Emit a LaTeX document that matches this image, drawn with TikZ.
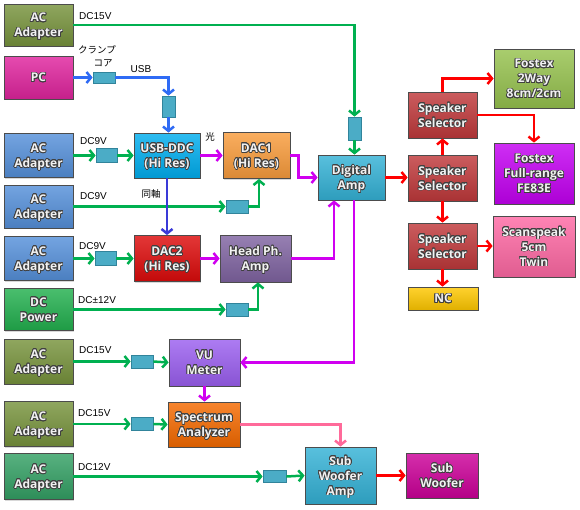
\documentclass[tikz,border=0pt]{standalone}
\usepackage{fontspec}
\setmainfont{Liberation Sans}
\newfontfamily\boxf{Open Sans}
\newfontfamily\jpf{Noto Sans CJK JP}
\usepackage{contour}
\contourlength{0.7pt}
\contournumber{20}
\usetikzlibrary{arrows.meta,shadows}
\definecolor{cAC}{HTML}{77933C}
\definecolor{cPC}{HTML}{E0249E}
\definecolor{cBL}{HTML}{5590DA}
\definecolor{cDCP}{HTML}{22B04E}
\definecolor{cAC7}{HTML}{33A064}
\definecolor{cDDC}{HTML}{00AEEF}
\definecolor{cDAC1}{HTML}{F99C3C}
\definecolor{cDAMP}{HTML}{34B2D6}
\definecolor{cDAC2}{HTML}{DD0B0B}
\definecolor{cHPA}{HTML}{8064A2}
\definecolor{cVU}{HTML}{9B5FF0}
\definecolor{cSPA}{HTML}{F56A00}
\definecolor{cSW}{HTML}{CC0099}
\definecolor{cSPK}{HTML}{C0393B}
\definecolor{cF2}{HTML}{96C24E}
\definecolor{cFF}{HTML}{C400F2}
\definecolor{cSCAN}{HTML}{FF69A4}
\definecolor{cNC}{HTML}{FFC800}
\definecolor{cSB}{HTML}{4BACC6}
\definecolor{cSBd}{HTML}{31849B}
\definecolor{lG}{HTML}{00B050}
\definecolor{lB}{HTML}{2F6BF5}
\definecolor{lB2}{HTML}{3A3AD8}
\definecolor{lM}{HTML}{D000F0}
\definecolor{lR}{HTML}{FF0000}
\definecolor{lP}{HTML}{FF6A9A}
\newcommand{\ct}[1]{\contour{black!75}{#1}}
\tikzset{
  box/.style={draw=black!70, line width=0.8pt, inner sep=0pt, align=center,
    text=white!95!black, font=\boxf\bfseries\fontsize{12}{15}\selectfont,
    text depth=0pt,
    top color=#1!82!white, bottom color=#1!88!black,
    drop shadow={shadow xshift=1.2pt, shadow yshift=-1.2pt, opacity=0.3}},
  sb/.style={draw=cSBd, fill=cSB, line width=0.8pt, inner sep=0pt},
  lbl/.style={font=\fontsize{10}{12}\selectfont, inner sep=0pt},
  jlbl/.style={font=\jpf\fontsize{9.5}{11}\selectfont, inner sep=0pt},
  conn/.style={line width=2.5pt, draw=#1, -{Straight Barb[length=4.5pt,width=11pt]}},
}
\begin{document}
\begin{tikzpicture}[x=1pt,y=-1pt]
\path[use as bounding box, fill=white] (0,0) rectangle (580,509);
% left column
\node[box=cAC, minimum width=69pt, minimum height=42pt] (ac1) at (38.5,25) {\ct{AC}\\\ct{Adapter}};
\node[box=cPC, minimum width=69pt, minimum height=43pt] (pc) at (38.5,77.5) {\ct{PC}};
\node[box=cBL, minimum width=69pt, minimum height=44pt] (ac2) at (38.5,155.5) {\ct{AC}\\\ct{Adapter}};
\node[box=cBL, minimum width=69pt, minimum height=43pt] (ac3) at (38.5,206.5) {\ct{AC}\\\ct{Adapter}};
\node[box=cBL, minimum width=69pt, minimum height=44pt] (ac4) at (38.5,258.5) {\ct{AC}\\\ct{Adapter}};
\node[box=cDCP, minimum width=69pt, minimum height=42pt] (dcp) at (38.5,309.5) {\ct{DC}\\\ct{Power}};
\node[box=cAC, minimum width=69pt, minimum height=45pt] (ac5) at (38.5,361.5) {\ct{AC}\\\ct{Adapter}};
\node[box=cAC, minimum width=69pt, minimum height=45pt] (ac6) at (38.5,424) {\ct{AC}\\\ct{Adapter}};
\node[box=cAC7, minimum width=69pt, minimum height=46pt] (ac7) at (38.5,476.5) {\ct{AC}\\\ct{Adapter}};
% middle
\node[box=cDDC, minimum width=66pt, minimum height=45pt] (ddc) at (167,155.5) {\ct{USB-DDC}\\\ct{(Hi Res)}};
\node[box=cDAC1, minimum width=67pt, minimum height=46pt] (dac1) at (256.5,155.5) {\ct{DAC1}\\\ct{(Hi Res)}};
\node[box=cDAMP, minimum width=67pt, minimum height=45pt] (damp) at (351.5,177.5) {\ct{Digital}\\\ct{Amp}};
\node[box=cDAC2, minimum width=66pt, minimum height=46pt] (dac2) at (167,258.5) {\ct{DAC2}\\\ct{(Hi Res)}};
\node[box=cHPA, minimum width=71pt, minimum height=47pt] (hpa) at (255.5,258.5) {\ct{Head Ph.}\\\ct{Amp}};
\node[box=cVU, minimum width=71pt, minimum height=47pt] (vu) at (204.5,362.5) {\ct{VU}\\\ct{Meter}};
\node[box=cSPA, minimum width=72pt, minimum height=45pt] (spa) at (204,424.5) {\ct{Spectrum}\\\ct{Analyzer}};
\node[box=cDAMP, minimum width=71pt, minimum height=57pt] (swa) at (340.5,475.5) {\ct{Sub}\\\ct{Woofer}\\\ct{Amp}};
\node[box=cSW, minimum width=72pt, minimum height=45pt] (sw) at (442,475.5) {\ct{Sub}\\\ct{Woofer}};
% right
\node[box=cSPK, minimum width=69pt, minimum height=46pt] (spk1) at (442.5,115) {\ct{Speaker}\\\ct{Selector}};
\node[box=cSPK, minimum width=69pt, minimum height=46pt] (spk2) at (442.5,178) {\ct{Speaker}\\\ct{Selector}};
\node[box=cSPK, minimum width=69pt, minimum height=46pt] (spk3) at (442.5,246) {\ct{Speaker}\\\ct{Selector}};
\node[box=cNC, minimum width=70pt, minimum height=23pt] (nc) at (443,298.5) {\ct{NC}};
\node[box=cF2, minimum width=80pt, minimum height=59pt] (fos2) at (534,78.5) {\ct{Fostex}\\\ct{2Way}\\\ct{8cm/2cm}};
\node[box=cFF, minimum width=80pt, minimum height=61pt] (fosf) at (534,173.5) {\ct{Fostex}\\\ct{Full-range}\\\ct{FE83E}};
\node[box=cSCAN, minimum width=82pt, minimum height=61pt] (scan) at (534,246.5) {\ct{Scanspeak}\\\ct{5cm}\\\ct{Twin}};
% small connector boxes
\node[sb, minimum width=13pt, minimum height=23pt] (sb1) at (354.5,128.5) {};
\node[sb, minimum width=22pt, minimum height=11pt] (sbpc) at (104,77.5) {};
\node[sb, minimum width=13pt, minimum height=21pt] (sbusb) at (168.5,106.5) {};
\node[sb, minimum width=21pt, minimum height=14pt] (sb2) at (106.5,155.5) {};
\node[sb, minimum width=22pt, minimum height=13pt] (sb3) at (237,206.5) {};
\node[sb, minimum width=21pt, minimum height=14pt] (sb4) at (105.5,258.5) {};
\node[sb, minimum width=22pt, minimum height=13pt] (sbdc) at (237,309.5) {};
\node[sb, minimum width=22pt, minimum height=13pt] (sb5) at (142,361.5) {};
\node[sb, minimum width=22pt, minimum height=13pt] (sb6) at (142,424) {};
\node[sb, minimum width=23pt, minimum height=12pt] (sb7) at (274.5,476.5) {};
% labels
\node[lbl, anchor=west] (l1) at (79,16) {DC15V};
\node[jlbl] (l2) at (97,50) {クランプ};
\node[jlbl] (l3) at (103,63) {コア};
\node[lbl] (l4) at (141,69) {USB};
\node[lbl, anchor=west] (l5) at (80,141) {DC9V};
\node[jlbl] (l6) at (210,137) {光};
\node[jlbl] (l7) at (151,194) {同軸};
\node[lbl, anchor=west] (l8) at (80,196) {DC9V};
\node[lbl, anchor=west] (l9) at (79,246) {DC9V};
\node[lbl, anchor=west] (l10) at (78,300) {DC±12V};
\node[lbl, anchor=west] (l11) at (79,350) {DC15V};
\node[lbl, anchor=west] (l12) at (78,413) {DC15V};
\node[lbl, anchor=west] (l13) at (78,467) {DC12V};
% connectors: power
\draw[conn=lG] (ac1.east) -| (sb1.north);
\draw[conn=lG] (sb1.south) -- (sb1.south |- damp.north);
\draw[conn=lG] (ac2.east) -- (sb2.west);
\draw[conn=lG] (sb2.east) -- (ddc.west);
\draw[conn=lG] (ac3.east) -- (sb3.west);
\draw[conn=lG] (sb3.east) -| ([xshift=2.5pt]dac1.south);
\draw[conn=lG] (ac4.east) -- (sb4.west);
\draw[conn=lG] (sb4.east) -- (dac2.west);
\draw[conn=lG] (dcp.east) -- (sbdc.west);
\draw[conn=lG] (sbdc.east) -| ([xshift=2.5pt]hpa.south);
\draw[conn=lG] (ac5.east) -- (sb5.west);
\draw[conn=lG] (sb5.east) -- (vu.west);
\draw[conn=lG] (ac6.east) -- (sb6.west);
\draw[conn=lG] (sb6.east) -- (spa.west);
\draw[conn=lG] (ac7.east) -- (sb7.west);
\draw[conn=lG] (sb7.east) -- (swa.west);
% USB
\draw[conn=lB] (pc.east) -- (sbpc.west);
\draw[conn=lB] (sbpc.east) -| (sbusb.north);
\draw[conn=lB] (sbusb.south) -- (sbusb.south |- ddc.north);
\draw[conn=lB2] (ddc.south) -- (dac2.north);
% audio
\draw[conn=lM] (ddc.east) -- (dac1.west);
\draw[conn=lM] (dac1.east) -- ++(8,0) |- (damp.west);
\draw[conn=lM] (dac2.east) -- (hpa.west);
\draw[conn=lM] (hpa.east) -| ([xshift=-17.5pt]damp.south);
\draw[conn=lM] ([xshift=2.5pt]damp.south) |- (vu.east);
\draw[conn=lM] (vu.south) -- (vu.south |- spa.north);
\draw[conn=lP] (spa.east) -| (swa.north);
\draw[conn=lR] (swa.east) -- (sw.west);
% speakers
\draw[conn=lR] (damp.east) -- (damp.east -| spk2.west);
\draw[conn=lR] (spk2.north) -- (spk1.south);
\draw[conn=lR] (spk1.north) |- (fos2.west);
\draw[conn=lR] (spk1.east) -| (fosf.north);
\draw[conn=lR] (spk2.south) -- (spk3.north);
\draw[conn=lR] (spk3.east) -- (spk3.east -| scan.west);
\draw[conn=lR] (spk3.south) -- (spk3.south |- nc.north);
\end{tikzpicture}
\end{document}
